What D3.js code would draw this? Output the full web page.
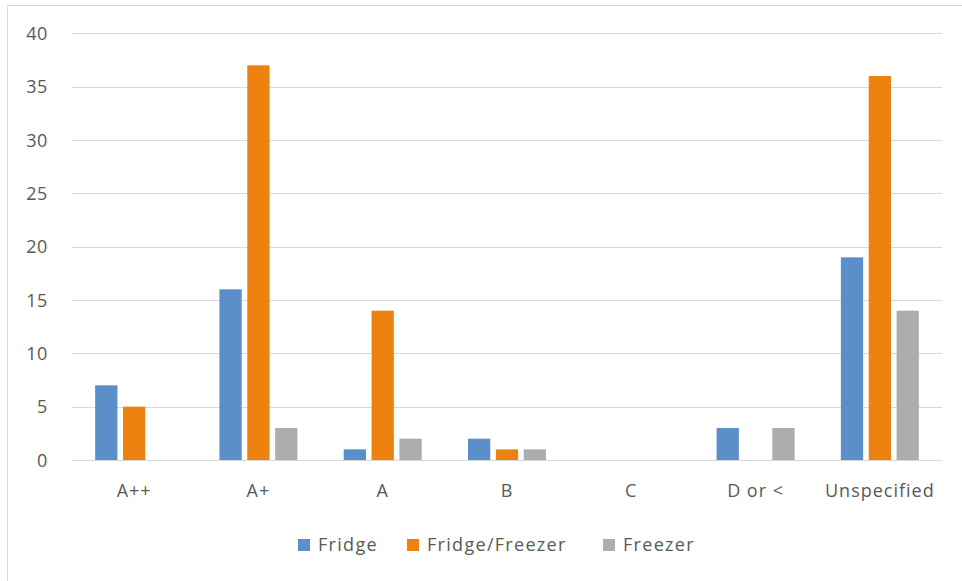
<!DOCTYPE html>
<html><head><meta charset="utf-8">
<script src="https://cdn.jsdelivr.net/npm/d3@7"></script>
<style>body{margin:0;background:#fff}svg{display:block}text{font-family:"Open Sans",sans-serif;fill:#595959}</style>
</head><body><svg id="c" width="962" height="581"></svg>
<script>
const categories = ["A++","A+","A","B","C","D or <","Unspecified"];
const seriesNames = ["Fridge","Fridge/Freezer","Freezer"];
const fridge = [7,16,1,2,0,3,19];
const fridgeFreezer = [5,37,14,1,0,0,36];
const freezer = [0,3,2,1,0,3,14];
const yTicks = [0,5,10,15,20,25,30,35,40];
const colors = ["#5B8FCA","#EE8211","#ADADAD"];

const series = [fridge, fridgeFreezer, freezer];
const svg = d3.select("#c");
svg.append("rect").attr("x",7.5).attr("y",5.5).attr("width",970).attr("height",600)
  .attr("fill","#fff").attr("stroke","#d9d9d9");

const plotL = 72, plotR = 942, plotT = 33.3, plotB = 460;
const x = d3.scaleBand().domain(categories).range([plotL,plotR]);
const y = d3.scaleLinear().domain([0,40]).range([plotB,plotT]);
const sub = d3.scaleBand().domain(d3.range(3)).range([0,78]).paddingInner(0.2);

svg.append("g").selectAll("line").data(yTicks).join("line")
  .attr("x1",plotL).attr("x2",plotR).attr("y1",d=>Math.round(y(d))+0.5).attr("y2",d=>Math.round(y(d))+0.5)
  .attr("stroke","#d9d9d9").attr("stroke-width",1.2);

const yAxis = d3.axisLeft(y).tickValues(yTicks).tickSize(0).tickPadding(0);
const ga = svg.append("g").attr("transform",`translate(48,0)`).call(yAxis);
ga.select(".domain").remove();
ga.selectAll("text").style("font-size","18px").attr("fill","#595959").attr("dy","0.35em").attr("letter-spacing","0.6px");

const xAxis = d3.axisBottom(x).tickSize(0).tickPadding(0);
const gx = svg.append("g").attr("transform",`translate(0,${plotB+31})`).call(xAxis);
gx.select(".domain").remove();
gx.selectAll("text").style("font-size","18px").attr("fill","#595959").attr("dy","0.35em").attr("letter-spacing","1px");

series.forEach((vals,si)=>{
  svg.append("g").selectAll("rect").data(vals.map((v,i)=>({v,c:categories[i]}))).join("rect")
    .attr("x",d=>x(d.c)+x.bandwidth()/2-39+sub(si))
    .attr("width",sub.bandwidth())
    .attr("y",d=>y(d.v)).attr("height",d=>plotB-y(d.v))
    .attr("fill",colors[si]);
});

const legX = [298,407,603];
const lg = svg.append("g");
seriesNames.forEach((n,i)=>{
  lg.append("rect").attr("x",legX[i]).attr("y",539).attr("width",12).attr("height",12).attr("fill",colors[i]);
  lg.append("text").attr("x",legX[i]+20).attr("y",545).attr("dy","0.35em")
    .style("font-size","18px").attr("letter-spacing","1.3px").text(n);
});
</script></body></html>
